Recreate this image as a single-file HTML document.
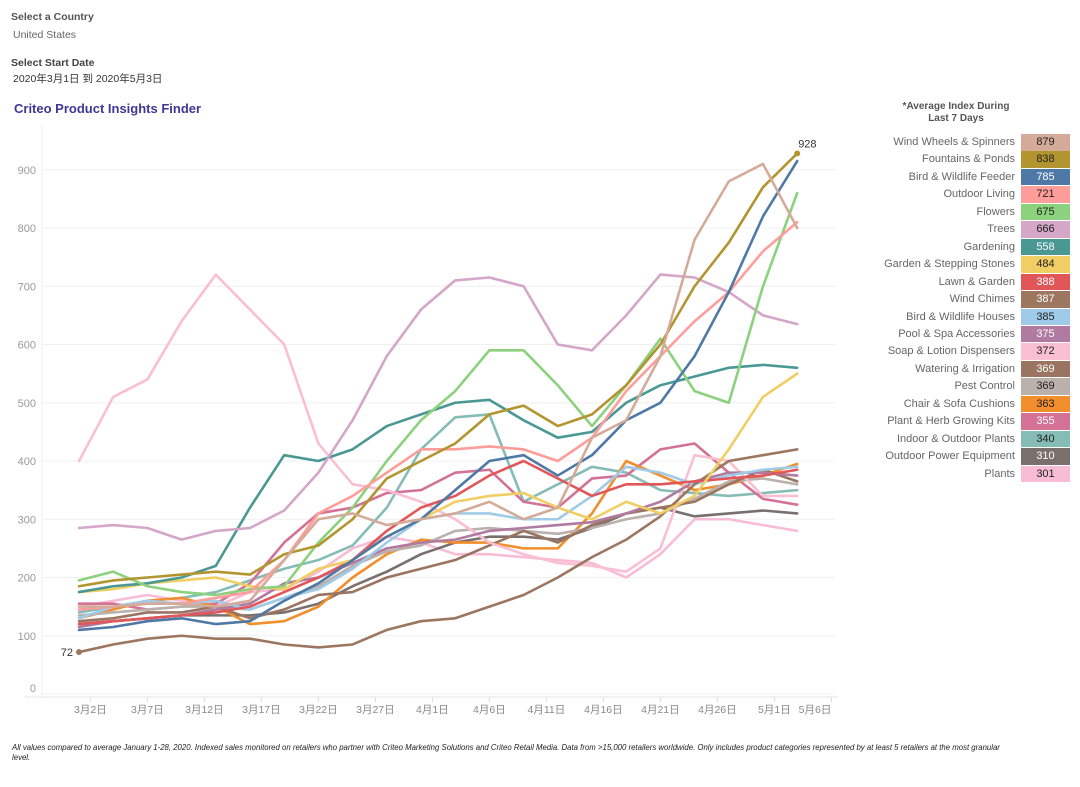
<!DOCTYPE html>
<html><head><meta charset="utf-8"><style>
body{margin:0;background:#fff;font-family:"Liberation Sans","Noto Sans CJK SC",sans-serif;}
#wrap{position:relative;width:1080px;height:787px;overflow:hidden;}
.t{position:absolute;white-space:nowrap;}
</style></head><body>
<div id="wrap">
<div class="t" style="left:11px;top:11px;font-size:10.5px;font-weight:bold;color:#555;">Select a Country</div>
<div class="t" style="left:13px;top:29px;font-size:10.5px;color:#666;">United States</div>
<div class="t" style="left:11px;top:57px;font-size:10.5px;font-weight:bold;color:#444;">Select Start Date</div>
<div class="t" style="left:13px;top:71px;font-size:10.5px;color:#333;">2020年3月1日 到 2020年5月3日</div>
<div class="t" style="left:14px;top:101px;font-size:13px;font-weight:bold;color:#3d3894;">Criteo Product Insights Finder</div>
<div class="t" style="left:880px;top:101px;width:152px;text-align:center;font-size:10px;font-weight:bold;color:#555;line-height:12px;">*Average Index During<br>Last 7 Days</div>
<div id="legend"></div>
<svg id="chart" width="1080" height="787" style="position:absolute;left:0;top:0;"></svg>
<div class="t" style="left:12px;top:743px;font-size:7.8px;font-style:italic;color:#222;line-height:9.5px;white-space:normal;width:1005px;">All values compared to average January 1-28, 2020. Indexed sales monitored on retailers who partner with Criteo Marketing Solutions and Criteo Retail Media. Data from &gt;15,000 retailers worldwide. Only includes product categories represented by at least 5 retailers at the most granular level.</div>
</div>
<script>
const days=[0,3,6,9,12,15,18,21,24,27,30,33,36,39,42,45,48,51,54,57,60,63];
const names=["Wind Wheels & Spinners","Fountains & Ponds","Bird & Wildlife Feeder","Outdoor Living","Flowers","Trees","Gardening","Garden & Stepping Stones","Lawn & Garden","Wind Chimes","Bird & Wildlife Houses","Pool & Spa Accessories","Soap & Lotion Dispensers","Watering & Irrigation","Pest Control","Chair & Sofa Cushions","Plant & Herb Growing Kits","Indoor & Outdoor Plants","Outdoor Power Equipment","Plants"];
const avgIndex=[879,838,785,721,675,666,558,484,388,387,385,375,372,369,369,363,355,340,310,301];
const colors=["#d4ab98","#b3952f","#4e79a7","#ff9d9a","#8cd17d","#d4a6c8","#499894","#f1ce63","#e15759","#9d7660","#a0cbe8","#b07aa1","#fabfd2","#9a7460","#bab0ac","#f28e2b","#d37295","#86bcb6","#79706e","#f8bdd4"];
const darkText=[1,1,0,1,1,1,0,1,0,0,1,0,1,0,1,1,0,1,0,1];
const s0=[150,150,155,155,150,160,230,300,310,290,300,310,330,300,320,440,470,580,780,880,910,800];
const s1=[185,195,200,205,210,205,240,255,300,370,400,430,480,495,460,480,530,600,700,775,870,928];
const s2=[110,115,125,130,120,125,160,190,230,270,300,350,400,410,375,410,470,500,580,690,820,915];
const s3=[145,150,155,155,165,175,230,310,340,380,420,420,425,420,400,440,520,580,640,690,760,810];
const s4=[195,210,185,175,170,180,185,260,320,400,470,520,590,590,530,460,530,610,520,500,700,860];
const s5=[285,290,285,265,280,285,315,380,470,580,660,710,715,700,600,590,650,720,715,690,650,635];
const s6=[175,185,190,200,220,320,410,400,420,460,480,500,505,470,440,450,500,530,545,560,565,560];
const s7=[175,180,190,195,200,185,180,215,230,270,300,330,340,345,320,300,330,310,340,420,510,550];
const s8=[120,125,130,135,140,150,175,200,230,280,320,340,375,400,370,340,360,360,365,370,375,385];
const s9=[72,85,95,100,95,95,85,80,85,110,125,130,150,170,200,235,265,305,360,400,410,420];
const s10=[130,150,160,155,160,145,165,180,215,260,300,310,310,300,300,340,390,380,360,375,385,390];
const s11=[115,125,130,135,145,155,190,200,225,250,260,265,280,285,290,295,310,330,365,380,380,375];
const s12=[400,510,540,640,720,660,600,430,360,350,330,300,260,240,225,220,210,250,410,400,340,340];
const s13=[125,130,140,140,150,130,145,170,175,200,215,230,255,280,260,290,310,320,330,360,385,365];
const s14=[135,140,145,150,150,145,165,185,220,245,255,280,285,280,275,285,300,310,335,365,370,360];
const s15=[130,145,160,165,150,120,125,150,200,240,265,260,260,250,250,310,400,375,350,360,375,395];
const s16=[155,155,145,150,155,190,260,310,320,345,350,380,385,330,320,370,375,420,430,380,335,325];
const s17=[140,150,160,165,175,195,215,230,255,320,420,475,480,330,360,390,380,350,345,340,345,350];
const s18=[120,125,130,135,135,135,140,155,185,210,240,260,270,270,265,285,310,320,305,310,315,310];
const s19=[150,160,170,160,150,175,180,210,250,270,260,240,240,235,230,225,200,240,300,300,290,280];
const series=[s0,s1,s2,s3,s4,s5,s6,s7,s8,s9,s10,s11,s12,s13,s14,s15,s16,s17,s18,s19];
const yTicks=[0,100,200,300,400,500,600,700,800,900];
const xTickDays=[1,6,11,16,21,26,31,36,41,46,51,56,61,66];
const xTickLabels=["3月2日","3月7日","3月12日","3月17日","3月22日","3月27日","4月1日","4月6日","4月11日","4月16日","4月21日","4月26日","5月1日","5月6日"];

const NS="http://www.w3.org/2000/svg";
const svg=document.getElementById('chart');
const X=d=>79+d*11.4;
const Y=v=>694-v*0.5825;
function mk(tag,attrs){const e=document.createElementNS(NS,tag);for(const k in attrs)e.setAttribute(k,attrs[k]);svg.appendChild(e);return e;}
yTicks.forEach((t,i)=>{
  const g=mk('line',{x1:42,x2:835,y1:Y(t),y2:Y(t),stroke:'#f0f0f0','stroke-width':1});
  
  
  const tx=mk('text',{x:36,y:(t===0?688:Y(t))+4,'text-anchor':'end','font-size':11,fill:'#999','font-family':'Liberation Sans, sans-serif'});
  tx.textContent=t;
  
  
});
const ax=mk('line',{x1:42,x2:42,y1:125,y2:697,stroke:'#eee','stroke-width':1});


const xa=mk('line',{x1:25,x2:838,y1:697,y2:697,stroke:'#e4e4e4','stroke-width':1});


xTickDays.forEach((d,i)=>{
  const tk=mk('line',{x1:X(d),x2:X(d),y1:697,y2:702,stroke:'#ddd'});
  
  
  const tx=mk('text',{x:i==13?815:X(d),y:713,'text-anchor':'middle','font-size':10.5,fill:'#888','font-family':'Liberation Sans, Noto Sans CJK SC, sans-serif'});
  tx.textContent=xTickLabels[i];
  
  
});
for(let i=series.length-1;i>=0;i--){
  const pts=series[i].map((v,j)=>X(days[j])+','+Y(v)).join(' ');
  const p=mk('polyline',{points:pts,fill:'none',stroke:colors[i],'stroke-width':2.6,'stroke-linejoin':'round','stroke-linecap':'round'});
  
  
}
const last=s1[s1.length-1], first=s9[0];
const d1=mk('circle',{cx:X(63),cy:Y(last),r:3,fill:colors[1]});


const l1=mk('text',{x:X(63)+1,y:Y(last)-6,'font-size':11,fill:'#333','font-family':'Liberation Sans, sans-serif'});
l1.textContent=last;


const d2=mk('circle',{cx:X(0),cy:Y(first),r:3,fill:colors[9]});


const l2=mk('text',{x:X(0)-6,y:Y(first)+4,'text-anchor':'end','font-size':11,fill:'#333','font-family':'Liberation Sans, sans-serif'});
l2.textContent=first;



const leg=document.getElementById('legend');
names.forEach((n,i)=>{
  const top=134+i*17.45;
  const lab=document.createElement('div');
  lab.className='t';
  lab.style.cssText=`left:860px;width:155px;text-align:right;top:${top}px;font-size:11px;line-height:17px;color:#666;`;
  lab.textContent=n;
  
  
  leg.appendChild(lab);
  const b=document.createElement('div');
  b.className='t';
  b.style.cssText=`left:1021px;width:49px;height:16.5px;top:${top}px;background:${colors[i]};text-align:center;font-size:11px;line-height:17px;color:${darkText[i]?'#222':'#fff'};`;
  b.textContent=avgIndex[i];
  
  
  leg.appendChild(b);
});
</script>
</body></html>
